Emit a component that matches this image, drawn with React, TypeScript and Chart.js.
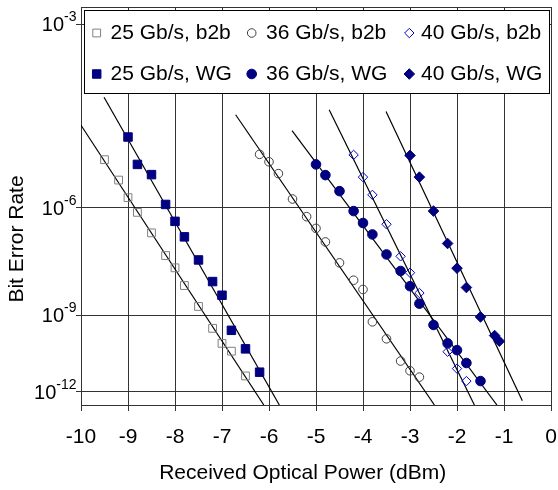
import React, { useEffect, useRef } from 'react';
import { Chart, registerables } from 'chart.js';

Chart.register(...registerables);

const FONT = "'Liberation Sans', Arial, Helvetica, sans-serif";

// ---- Data: received optical power (dBm) and log10(BER) ----
const seriesLabels = ['25 Gb/s, b2b', '36 Gb/s, b2b', '40 Gb/s, b2b', '25 Gb/s, WG', '36 Gb/s, WG', '40 Gb/s, WG'];

const power25b2b = [-9.5, -9.2, -9.0, -8.8, -8.5, -8.2, -8.0, -7.8, -7.5, -7.2, -7.0, -6.8, -6.5];
const logBer25b2b = [-5.0, -5.4, -5.77, -6.1, -6.59, -7.18, -7.52, -8.04, -8.7, -9.45, -10.0, -10.3, -11.31];

const power36b2b = [-6.2, -6.0, -5.8, -5.5, -5.2, -5.0, -4.8, -4.5, -4.2, -4.0, -3.8, -3.5, -3.2, -3.0, -2.8];
const logBer36b2b = [-4.9, -5.04, -5.27, -5.8, -6.2, -6.48, -6.82, -7.38, -7.88, -8.16, -9.22, -9.83, -10.69, -11.09, -11.36];

const power40b2b = [-4.2, -4.0, -3.8, -3.5, -3.2, -3.0, -2.8, -2.2, -2.0, -1.8];
const logBer40b2b = [-4.91, -5.34, -5.71, -6.38, -7.2, -7.66, -8.27, -10.32, -11.0, -11.53];

const power25WG = [-9.0, -8.8, -8.5, -8.2, -8.0, -7.8, -7.5, -7.2, -7.0, -6.8, -6.5, -6.2];
const logBer25WG = [-4.59, -5.09, -5.29, -5.92, -6.31, -6.69, -7.3, -7.92, -8.34, -9.52, -10.21, -11.15];

const power36WG = [-5.0, -4.8, -4.5, -4.2, -4.0, -3.8, -3.5, -3.2, -3.0, -2.8, -2.5, -2.2, -2.0, -1.8, -1.5];
const logBer36WG = [-5.09, -5.3, -5.63, -6.07, -6.35, -6.63, -7.15, -7.61, -8.06, -8.61, -9.33, -10.0, -10.26, -10.77, -11.53];

const power40WG = [-3.0, -2.8, -2.5, -2.2, -2.0, -1.8, -1.5, -1.2, -1.1];
const logBer40WG = [-4.92, -5.34, -6.07, -6.86, -7.53, -8.1, -9.05, -9.71, -9.92];

// Fitted straight lines (two end points each)
const fitPower25b2b = [-10.0, -6.11];
const fitLogBer25b2b = [-4.39, -12.62];
const fitPower25WG = [-9.51, -5.78];
const fitLogBer25WG = [-3.95, -12.62];
const fitPower36b2b = [-6.71, -2.48];
const fitLogBer36b2b = [-4.22, -12.62];
const fitPower36WG = [-5.51, -1.15];
const fitLogBer36WG = [-4.48, -12.62];
const fitPower40b2b = [-4.72, -1.63];
const fitLogBer40b2b = [-4.14, -12.62];
const fitPower40WG = [-3.51, -0.61];
const fitLogBer40WG = [-4.17, -12.42];

// Axes
const powerTicks = [-10, -9, -8, -7, -6, -5, -4, -3, -2, -1, 0];
const berTickExponents = [3, 6, 9, 12];
const axisLogBerRange = [-2.81, -12.62];

const xTitle = 'Received Optical Power (dBm)';
const yTitle = 'Bit Error Rate';

// y is plotted as log10(-log10(BER)), reversed
const toQ = (logBer: number) => Math.log10(-logBer);
const pts = (xs: number[], ys: number[]) => xs.map((x, i) => ({ x, y: toQ(ys[i]) }));

const NAVY = '#000080';
const CLEAR = 'rgba(0,0,0,0)';

const seriesData = [
  pts(power25b2b, logBer25b2b),
  pts(power36b2b, logBer36b2b),
  pts(power40b2b, logBer40b2b),
  pts(power25WG, logBer25WG),
  pts(power36WG, logBer36WG),
  pts(power40WG, logBer40WG),
];
const seriesStyles = [
  { style: 'rect', r: 5.5, fill: CLEAR, stroke: '#808080' },
  { style: 'circle', r: 4.3, fill: CLEAR, stroke: '#404040' },
  { style: 'rectRot', r: 4.7, fill: CLEAR, stroke: '#0000d0' },
  { style: 'rect', r: 6.0, fill: NAVY, stroke: NAVY },
  { style: 'circle', r: 4.8, fill: NAVY, stroke: NAVY },
  { style: 'rectRot', r: 5.3, fill: NAVY, stroke: NAVY },
];
const fits = [
  pts(fitPower25b2b, fitLogBer25b2b),
  pts(fitPower25WG, fitLogBer25WG),
  pts(fitPower36b2b, fitLogBer36b2b),
  pts(fitPower36WG, fitLogBer36WG),
  pts(fitPower40b2b, fitLogBer40b2b),
  pts(fitPower40WG, fitLogBer40WG),
];

function drawMarker(ctx: CanvasRenderingContext2D, style: string, x: number, y: number, r: number, fill: string, stroke: string) {
  ctx.beginPath();
  if (style === 'rect') {
    const s = Math.SQRT1_2 * r;
    ctx.rect(x - s, y - s, 2 * s, 2 * s);
  } else if (style === 'rectRot') {
    ctx.moveTo(x - r, y);
    ctx.lineTo(x, y - r);
    ctx.lineTo(x + r, y);
    ctx.lineTo(x, y + r);
    ctx.closePath();
  } else {
    ctx.arc(x, y, r, 0, Math.PI * 2);
    ctx.closePath();
  }
  ctx.fillStyle = fill;
  ctx.fill();
  ctx.lineWidth = 1;
  ctx.strokeStyle = stroke;
  ctx.stroke();
}

const overlayPlugin = {
  id: 'overlay',
  afterDatasetsDraw(chart: any) {
    const { ctx, chartArea } = chart;
    ctx.save();
    // top frame line
    ctx.strokeStyle = '#333';
    ctx.lineWidth = 1;
    ctx.beginPath();
    const ty = Math.round(chartArea.top) + 0.5;
    ctx.moveTo(chartArea.left, ty);
    ctx.lineTo(chartArea.right, ty);
    ctx.stroke();

    // legend box
    const bx = 84.5, by = 10.5, bw = 465, bh = 83;
    ctx.fillStyle = '#fff';
    ctx.fillRect(bx, by, bw, bh);
    ctx.strokeStyle = '#000';
    ctx.strokeRect(bx, by, bw, bh);
    const markerX = [96.7, 251.7, 409.3];
    const textX = [110.5, 266, 421];
    const rowY = [33, 74];
    ctx.font = `21px ${FONT}`;
    ctx.textBaseline = 'middle';
    ctx.textAlign = 'left';
    seriesLabels.forEach((label, i) => {
      const col = i % 3;
      const row = Math.floor(i / 3);
      const ds = chart.data.datasets[i];
      drawMarker(ctx, ds.pointStyle, markerX[col], rowY[row], ds.pointRadius, ds.pointBackgroundColor, ds.pointBorderColor);
      ctx.fillStyle = '#000';
      ctx.fillText(label, textX[col], rowY[row]);
    });
    ctx.restore();
  },
  afterDraw(chart: any) {
    const { ctx } = chart;
    const yScale = chart.scales.y;
    ctx.save();
    ctx.fillStyle = '#000';
    ctx.textAlign = 'left';
    ctx.textBaseline = 'alphabetic';
    berTickExponents.forEach((e) => {
      const py = yScale.getPixelForValue(Math.log10(e));
      const sup = '-' + e;
      ctx.font = `14px ${FONT}`;
      const sw = ctx.measureText(sup).width;
      ctx.font = `20px ${FONT}`;
      const mw = ctx.measureText('10').width;
      const right = 76.5;
      ctx.fillText('10', right - sw - mw, py + 7);
      ctx.font = `14px ${FONT}`;
      ctx.fillText(sup, right - sw, py - 3);
    });
    // axis titles
    ctx.font = `21px ${FONT}`;
    ctx.textAlign = 'center';
    ctx.textBaseline = 'middle';
    ctx.fillText(xTitle, 302.7, 473);
    ctx.translate(17.5, 239);
    ctx.rotate(-Math.PI / 2);
    ctx.fillText(yTitle, 0, 0);
    ctx.restore();
  },
};

export default function App() {
  const ref = useRef<HTMLCanvasElement | null>(null);
  useEffect(() => {
    document.body.style.margin = '0';
    const canvas = ref.current;
    if (!canvas) return;
    const pointSets = seriesData.map((data, i) => ({
      label: seriesLabels[i],
      data,
      showLine: false,
      pointStyle: seriesStyles[i].style,
      pointRadius: seriesStyles[i].r,
      pointBackgroundColor: seriesStyles[i].fill,
      pointBorderColor: seriesStyles[i].stroke,
      pointBorderWidth: 1,
    }));
    const lineSets = fits.map((data, i) => ({
      label: 'fit' + i,
      data,
      showLine: true,
      borderColor: '#000',
      borderWidth: 1.2,
      pointRadius: 0,
      fill: false,
    }));
    const chart = new Chart(canvas, {
      type: 'scatter',
      data: { datasets: [...pointSets, ...lineSets] as any },
      options: {
        responsive: false,
        animation: false,
        devicePixelRatio: 1,
        events: [],
        layout: { padding: { top: 7, right: 5.3, left: 0, bottom: 0 } },
        plugins: { legend: { display: false }, tooltip: { enabled: false } },
        scales: {
          x: {
            type: 'linear',
            min: powerTicks[0],
            max: powerTicks[powerTicks.length - 1],
            afterBuildTicks: (scale: any) => {
              scale.ticks = powerTicks.map((v) => ({ value: v }));
            },
            ticks: {
              color: '#000',
              font: { family: FONT, size: 21 },
              padding: 14,
              maxRotation: 0,
              autoSkip: false,
            },
            grid: { color: '#333', lineWidth: 1, tickLength: 6 },
            border: { color: '#333', width: 1 },
            afterFit: (scale: any) => {
              scale.height = 85;
              scale.paddingLeft = 0;
              scale.paddingRight = 0;
            },
          },
          y: {
            type: 'linear',
            reverse: true,
            min: toQ(axisLogBerRange[0]),
            max: toQ(axisLogBerRange[1]),
            afterBuildTicks: (scale: any) => {
              scale.ticks = berTickExponents.map((e) => ({ value: Math.log10(e) }));
            },
            ticks: { display: false },
            grid: { color: '#333', lineWidth: 1, tickLength: 5 },
            border: { color: '#333', width: 1 },
            afterFit: (scale: any) => {
              scale.width = 81;
              scale.paddingTop = 0;
              scale.paddingBottom = 0;
            },
          },
        },
      } as any,
      plugins: [overlayPlugin],
    });
    return () => chart.destroy();
  }, []);
  return <canvas ref={ref} width={558} height={490} style={{ display: 'block' }} />;
}
